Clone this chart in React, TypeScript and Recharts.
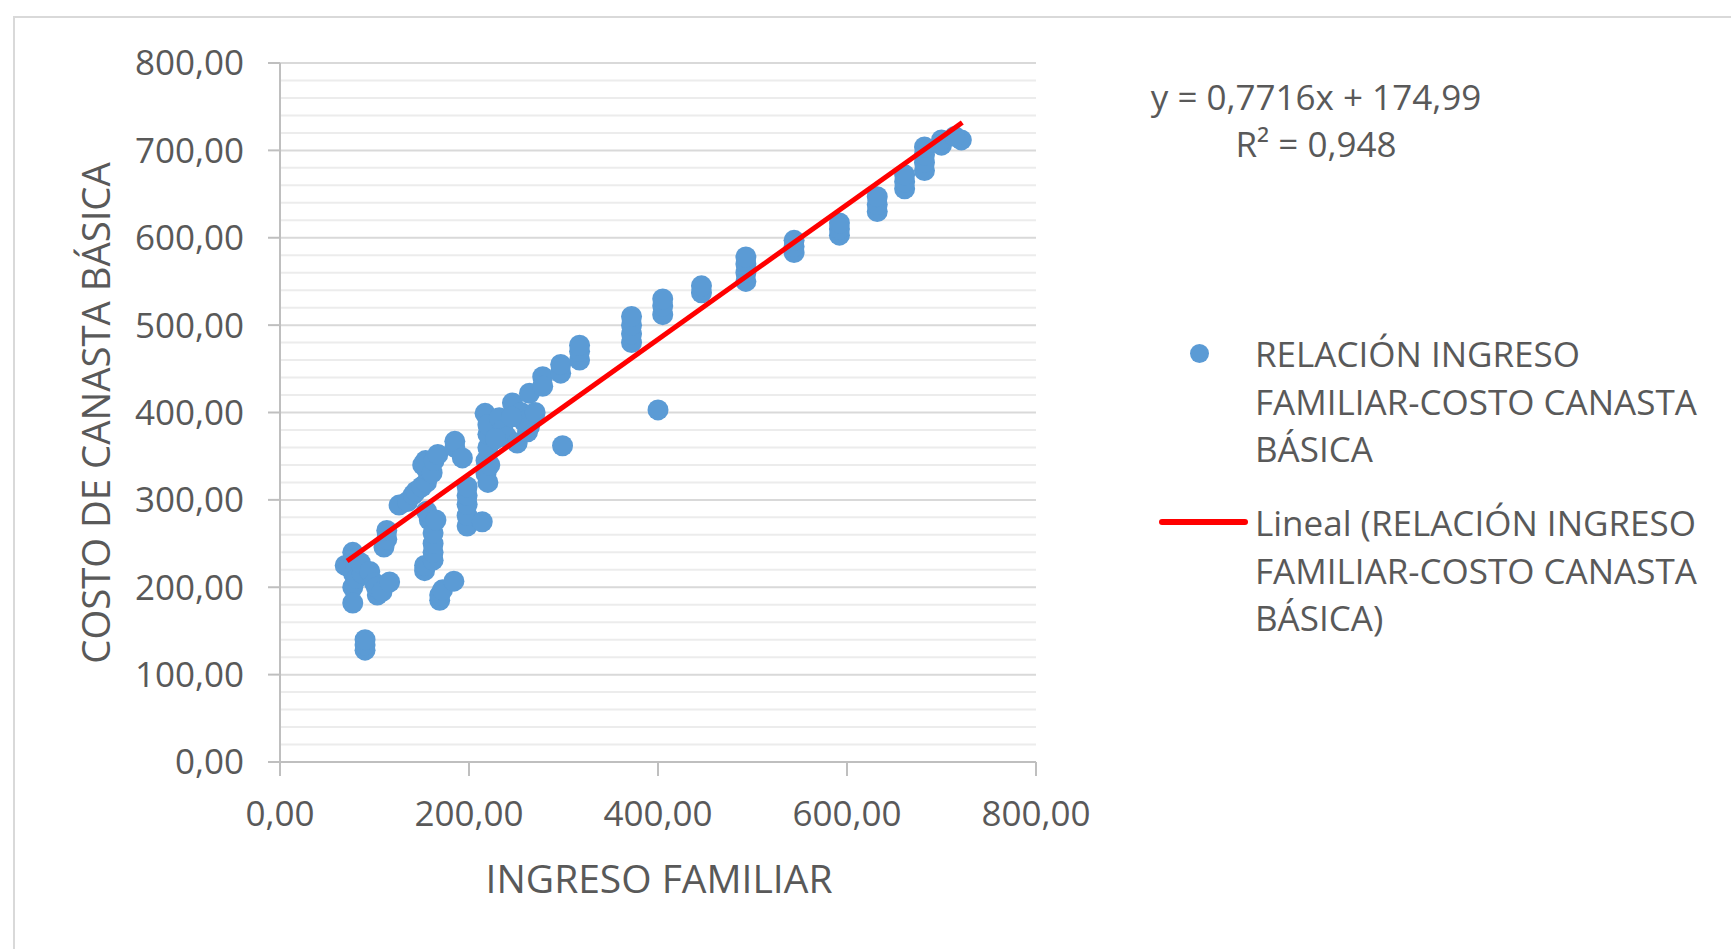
import React from "react";
import {
  ScatterChart,
  Scatter,
  XAxis,
  YAxis,
  CartesianGrid,
  ReferenceLine,
  Legend,
} from "recharts";

// Ingreso familiar (x) and costo de canasta básica (y)
const incomeValues = [
  69, 73, 77, 78, 78, 77, 77, 81, 87, 85,
  90, 90, 90, 95, 100, 103, 102, 108, 116, 110,
  113, 113, 126, 135, 141, 144, 150, 153, 153, 155,
  155, 154, 151, 158, 155, 162, 162, 162, 162, 165,
  161, 163, 167, 169, 169, 172, 184, 185, 185, 193,
  198, 198, 198, 198, 198, 214, 217, 218, 218, 220,
  220, 220, 220, 222, 232, 236, 240, 246, 251, 255,
  258, 264, 264, 270, 278, 278, 299, 297, 297, 317,
  317, 317, 372, 372, 372, 372, 400, 405, 405, 405,
  446, 446, 493, 493, 493, 493, 544, 544, 544, 592,
  592, 592, 632, 632, 632, 661, 661, 661, 682, 682,
  682, 682, 700, 700, 721, 714, 228, 245, 262,
];
const costValues = [
  225, 223, 240, 232, 215, 200, 182, 210, 216, 228,
  128, 134, 140, 218, 205, 191, 200, 195, 206, 246,
  255, 265, 294, 298, 306, 310, 315, 219, 225, 320,
  335, 345, 340, 277, 287, 231, 240, 250, 262, 277,
  331, 345, 352, 185, 191, 197, 207, 360, 367, 348,
  270, 282, 295, 305, 315, 275, 399, 330, 345, 320,
  360, 375, 386, 340, 394, 380, 372, 411, 365, 400,
  390, 422, 384, 400, 441, 430, 362, 445, 455, 460,
  470, 477, 480, 490, 500, 510, 403, 512, 522, 530,
  537, 545, 550, 560, 570, 578, 583, 590, 597, 603,
  610, 617, 630, 638, 647, 656, 664, 672, 677, 686,
  695, 704, 706, 712, 712, 716, 370, 395, 378,
];

// Linear trend line end points
const trendX = [71, 722];
const trendY = [230, 732];

const xTicks = [0, 200, 400, 600, 800];
const yTicks = [0, 100, 200, 300, 400, 500, 600, 700, 800];
const yMinorTicks = [
  20, 40, 60, 80, 120, 140, 160, 180, 220, 240, 260, 280, 320, 340, 360, 380,
  420, 440, 460, 480, 520, 540, 560, 580, 620, 640, 660, 680, 720, 740, 760, 780,
];

const seriesName = "RELACIÓN INGRESO FAMILIAR-COSTO CANASTA BÁSICA";
const legendLines1 = ["RELACIÓN INGRESO", "FAMILIAR-COSTO CANASTA", "BÁSICA"];
const legendLines2 = ["Lineal (RELACIÓN INGRESO", "FAMILIAR-COSTO CANASTA", "BÁSICA)"];
const equationText = "y = 0,7716x + 174,99";
const r2Text = "R² = 0,948";
const xTitle = "INGRESO FAMILIAR";
const yTitle = "COSTO DE CANASTA BÁSICA";

const pointData = incomeValues.map((x, i) => ({ x, y: costValues[i] }));
const trendData = trendX.map((x, i) => ({ x, y: trendY[i] }));

const FONT = "'Open Sans', 'Noto Sans', sans-serif";
const TEXT = "#595959";
const BLUE = "#5B9BD5";
const RED = "#FF0000";

const fmt = (v: number) => v.toFixed(2).replace(".", ",");

const Dot = (props: any) => {
  const { cx, cy } = props;
  if (cx == null || cy == null) return <g />;
  return <circle cx={cx} cy={cy} r={10.5} fill={BLUE} />;
};

const NoShape = () => <g />;

const LegendContent = () => (
  <div style={{ fontFamily: FONT, fontSize: 35, color: TEXT, lineHeight: "47.5px", position: "relative" }}>
    <div style={{ position: "relative", height: 142 }}>
      <div
        style={{
          position: "absolute",
          left: 31,
          top: 23 - 9.5,
          width: 19,
          height: 19,
          borderRadius: "50%",
          background: BLUE,
        }}
      />
      <div style={{ position: "absolute", left: 96, top: 0, whiteSpace: "nowrap" }}>
        {legendLines1.map((l) => (
          <div key={l}>{l}</div>
        ))}
      </div>
    </div>
    <div style={{ position: "relative", height: 142, marginTop: 27 }}>
      <div
        style={{
          position: "absolute",
          left: 0,
          top: 23 - 3,
          width: 89,
          height: 6,
          borderRadius: 3,
          background: RED,
        }}
      />
      <div style={{ position: "absolute", left: 96, top: 0, whiteSpace: "nowrap" }}>
        {legendLines2.map((l) => (
          <div key={l}>{l}</div>
        ))}
      </div>
    </div>
  </div>
);

export default function App() {
  return (
    <div style={{ position: "relative", width: 1731, height: 949, background: "#fff", overflow: "hidden" }}>
      <style>{`body{margin:0;}`}</style>
      <div
        style={{
          position: "absolute",
          left: 13,
          top: 16,
          width: 1800,
          height: 1000,
          borderLeft: "2px solid #d9d9d9",
          borderTop: "2px solid #d9d9d9",
          boxSizing: "border-box",
        }}
      />
      <div style={{ position: "absolute", left: 0, top: 0 }}>
        <ScatterChart
          width={1731}
          height={949}
          margin={{ top: 63, right: 695, bottom: 67, left: 0 }}
        >
          {yMinorTicks.map((v) => (
            <ReferenceLine key={v} y={v} stroke="#ececec" strokeWidth={2} ifOverflow="visible" />
          ))}
          <CartesianGrid vertical={false} stroke="#d9d9d9" strokeWidth={2} />
          <XAxis
            type="number"
            dataKey="x"
            domain={[0, 800]}
            ticks={xTicks}
            tickFormatter={fmt}
            height={120}
            tickSize={14}
            tickMargin={25}
            axisLine={{ stroke: "#bfbfbf", strokeWidth: 2 }}
            tickLine={{ stroke: "#bfbfbf", strokeWidth: 2 }}
            tick={{ fill: TEXT, fontSize: 35, fontFamily: FONT }}
            interval={0}
          />
          <YAxis
            type="number"
            dataKey="y"
            domain={[0, 800]}
            ticks={yTicks}
            tickFormatter={fmt}
            width={280}
            tickSize={12}
            tickMargin={24}
            axisLine={{ stroke: "#bfbfbf", strokeWidth: 2 }}
            tickLine={{ stroke: "#bfbfbf", strokeWidth: 2 }}
            tick={{ fill: TEXT, fontSize: 35, fontFamily: FONT }}
            interval={0}
          />
          <Scatter
            name={seriesName}
            data={pointData}
            shape={Dot}
            isAnimationActive={false}
          />
          <Scatter
            name={"Lineal (" + seriesName + ")"}
            data={trendData}
            line={{ stroke: RED, strokeWidth: 5 }}
            shape={NoShape}
            isAnimationActive={false}
          />
          <Legend
            layout="vertical"
            align="center"
            verticalAlign="middle"
            content={LegendContent}
            wrapperStyle={{ position: "absolute", left: 1159, top: 330, width: 560, height: 340 }}
          />
        </ScatterChart>
      </div>
      <div
        style={{
          position: "absolute",
          left: 1116,
          width: 400,
          top: 74,
          textAlign: "center",
          fontFamily: FONT,
          fontSize: 35,
          lineHeight: "46.5px",
          color: TEXT,
          whiteSpace: "nowrap",
        }}
      >
        <div>{equationText}</div>
        <div>{r2Text}</div>
      </div>
      <div
        style={{
          position: "absolute",
          left: 659 - 300,
          width: 600,
          top: 878 - 26,
          height: 52,
          lineHeight: "52px",
          textAlign: "center",
          fontFamily: FONT,
          fontSize: 39,
          color: TEXT,
          whiteSpace: "nowrap",
        }}
      >
        {xTitle}
      </div>
      <div
        style={{
          position: "absolute",
          left: 95 - 300,
          width: 600,
          top: 413 - 26,
          height: 52,
          lineHeight: "52px",
          textAlign: "center",
          fontFamily: FONT,
          fontSize: 38.3,
          color: TEXT,
          whiteSpace: "nowrap",
          transform: "rotate(-90deg)",
        }}
      >
        {yTitle}
      </div>
    </div>
  );
}
